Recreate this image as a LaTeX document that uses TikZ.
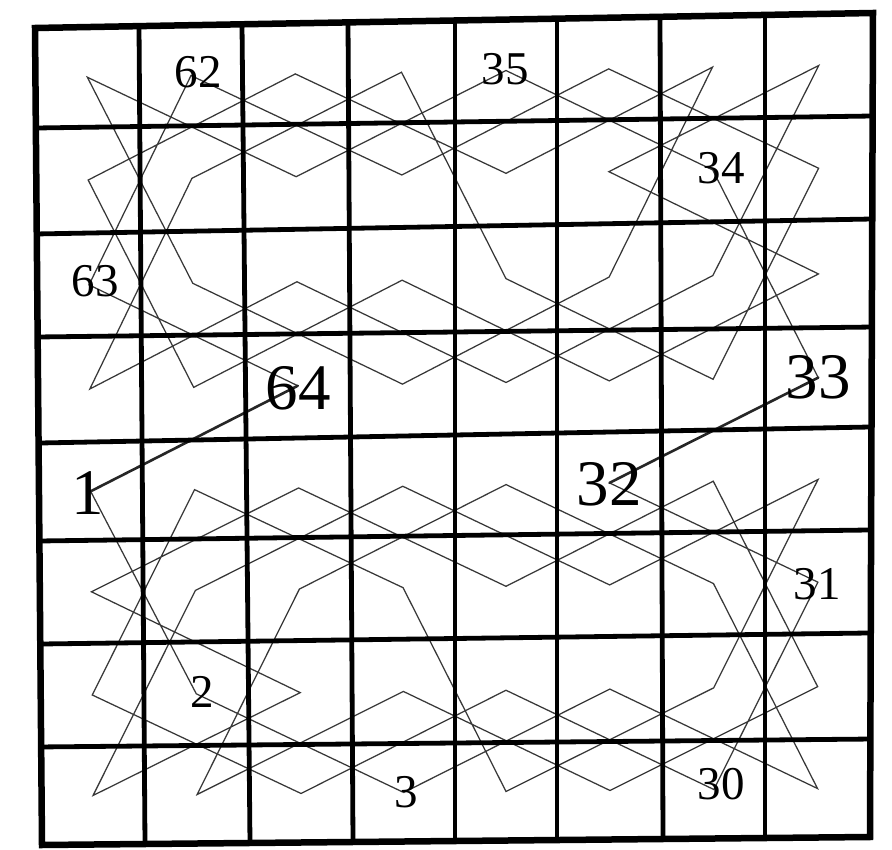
\documentclass[tikz,border=0pt]{standalone}
\usepackage{fontspec}
\setmainfont{Liberation Serif}
\usetikzlibrary{calc}
\begin{document}
\begin{tikzpicture}[x=1pt,y=-1pt,
  gridline/.style={line width=4.8pt,black,line cap=rect},
  borderline/.style={line width=6.5pt,black,line join=miter},
  tourline/.style={line width=1.25pt,black!78,line join=miter},
  linkline/.style={line width=2.6pt,black!85,line cap=round},
  biglabel/.style={font=\fontsize{65}{65}\selectfont,inner sep=0pt},
  smalllabel/.style={font=\fontsize{47}{47}\selectfont,inner sep=0pt}]
\useasboundingbox (0,0) rectangle (892,850);
\fill[white] (0,0) rectangle (892,850);
% vertical grid line end points (slightly skewed, as photographed)
\foreach \i/\xt/\yt/\xb/\yb in {0/35/28/42/845,1/139/26.1/145/844,2/242/24.3/250/843,
  3/348/22.4/353/842,4/455/20.5/455/841,5/557/18.7/557/840,6/660/16.8/663/839,
  7/765/14.9/765/838,8/873/13/870/837}{
  \coordinate (vt\i) at (\xt,\yt);
  \coordinate (vb\i) at (\xb,\yb);
}
% grid crossings: fraction down each vertical line, left and right edge values
\foreach \j/\tl/\tr in {0/0/0,1/0.1224/0.1250,2/0.2521/0.2500,3/0.3782/0.3811,
  4/0.5080/0.5024,5/0.6279/0.6274,6/0.7540/0.7524,7/0.8800/0.8811,8/1/1}{
  \foreach \i in {0,...,8}{
    \pgfmathsetmacro{\tt}{\tl*(1-\i/8)+\tr*\i/8}
    \coordinate (p-\i-\j) at ($(vt\i)!\tt!(vb\i)$);
  }
}
% square centres
\foreach \c in {0,...,7}{
  \foreach \r in {0,...,7}{
    \pgfmathtruncatemacro{\cc}{\c+1}
    \pgfmathtruncatemacro{\rr}{\r+1}
    \coordinate (s-\c-\r) at ($(p-\c-\r)!0.5!(p-\cc-\rr)$);
  }
}
% knight's tour, moves 1..32 (lower half)
\draw[tourline] (s-0-4) -- (s-1-6) -- (s-3-7) -- (s-5-6) -- (s-7-7) -- (s-6-5) -- (s-4-4) -- (s-2-5)
  -- (s-1-7) -- (s-3-6) -- (s-5-7) -- (s-7-6) -- (s-6-4) -- (s-4-5) -- (s-2-4) -- (s-0-5)
  -- (s-2-6) -- (s-0-7) -- (s-1-5) -- (s-3-4) -- (s-5-5) -- (s-7-4) -- (s-6-6) -- (s-4-7)
  -- (s-3-5) -- (s-1-4) -- (s-0-6) -- (s-2-7) -- (s-4-6) -- (s-6-7) -- (s-7-5) -- (s-5-4);
% moves 33..64 (upper half)
\draw[tourline] (s-7-3) -- (s-6-1) -- (s-4-0) -- (s-2-1) -- (s-0-0) -- (s-1-2) -- (s-3-3) -- (s-5-2)
  -- (s-6-0) -- (s-4-1) -- (s-2-0) -- (s-0-1) -- (s-1-3) -- (s-3-2) -- (s-5-3) -- (s-7-2)
  -- (s-5-1) -- (s-7-0) -- (s-6-2) -- (s-4-3) -- (s-2-2) -- (s-0-3) -- (s-1-1) -- (s-3-0)
  -- (s-4-2) -- (s-6-3) -- (s-7-1) -- (s-5-0) -- (s-3-1) -- (s-1-0) -- (s-0-2) -- (s-2-3);
% links between the halves
\draw[linkline] (s-5-4) -- (s-7-3);
\draw[linkline] (s-2-3) -- (s-0-4);
% grid
\foreach \i in {1,...,7}{\draw[gridline] (p-\i-0) -- (p-\i-8);}
\foreach \j in {1,...,7}{\draw[gridline] (p-0-\j) -- (p-8-\j);}
\draw[borderline] (p-0-0) -- (p-8-0) -- (p-8-8) -- (p-0-8) -- cycle;
% labels
\node[biglabel] (n1) at (88,493) {1};
\node[biglabel] (n64) at (298,388) {64};
\node[biglabel] (n33) at (818,377) {33};
\node[biglabel] (n32) at (609,484) {32};
\node[smalllabel] (n62) at (198,72) {62};
\node[smalllabel] (n35) at (505,69) {35};
\node[smalllabel] (n34) at (721,168) {34};
\node[smalllabel] (n63) at (95,281) {63};
\node[smalllabel] (n31) at (817,584) {31};
\node[smalllabel] (n2) at (202,692) {2};
\node[smalllabel] (n3) at (406,792) {3};
\node[smalllabel] (n30) at (721,784) {30};
\end{tikzpicture}
\end{document}
